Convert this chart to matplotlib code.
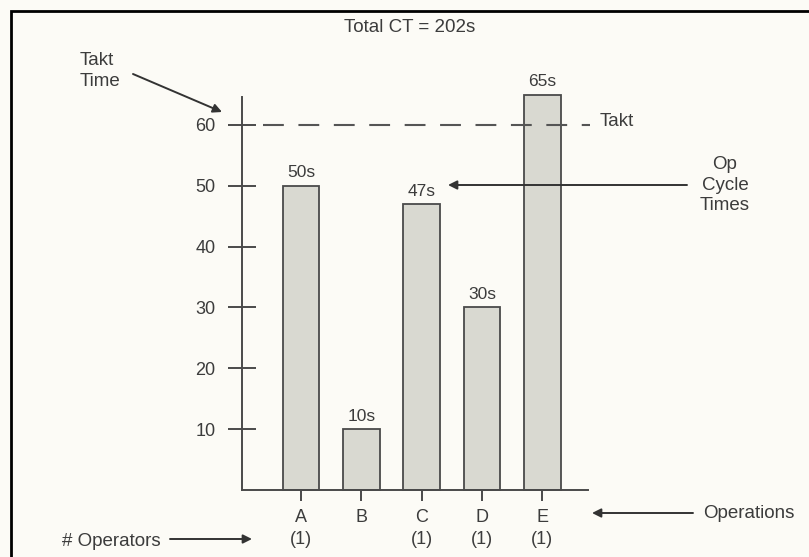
import matplotlib.pyplot as plt
import matplotlib.transforms as mtransforms
from matplotlib.patches import Rectangle

# -----------------------------
# Data
# -----------------------------
operations = ["A", "B", "C", "D", "E"]
cycle_times = [50, 10, 47, 30, 65]
operators = ["(1)", "", "(1)", "(1)", "(1)"]
takt_time = 60
y_ticks = [10, 20, 30, 40, 50, 60]
total_ct = sum(cycle_times)  # 202s

plt.rcParams['font.family'] = ['Liberation Sans Narrow', 'Liberation Sans', 'DejaVu Sans']

W, H = 809, 557
BG = "#fcfbf6"
INK = "#3c3c3c"
LINE = "#4a4a4a"

fig = plt.figure(figsize=(W / 100, H / 100), dpi=100, facecolor=BG)


def fx(px):
    return px / W


def fy(py):
    return 1 - py / H


# outer frame (only top and left edges fall inside the picture)
fig.add_artist(Rectangle((fx(11), -0.1), 1.2, fy(11) + 0.1, transform=fig.transFigure,
                         fill=False, edgecolor="black", linewidth=2.0))

# axes box: y-axis at x=242px, x-axis at y=490px
ax = fig.add_axes([fx(242), fy(490), fx(588) - fx(242), fy(97) - fy(490)])
ax.set_facecolor("none")

x = list(range(len(operations)))
ax.bar(x, cycle_times, width=0.61, color="#d9d9d1", edgecolor=LINE,
       linewidth=1.3, zorder=2, clip_on=False)

for xi, v in zip(x, cycle_times):
    ax.text(xi, v + 0.9, f"{v}s", ha="center", va="bottom", fontsize=12.5, color=INK)

# takt line
ax.plot([-0.63, 4.79], [takt_time, takt_time], color="#555555", linewidth=1.5,
        linestyle=(0, (10, 7)), zorder=3, clip_on=False)

ax.set_xlim(-0.98, 4.76)
ax.set_ylim(0, 64.6)
for s in ["top", "right"]:
    ax.spines[s].set_visible(False)
for s in ["left", "bottom"]:
    ax.spines[s].set_color(LINE)
    ax.spines[s].set_linewidth(1.4)

ax.set_yticks(y_ticks)
ax.set_yticklabels([str(t) for t in y_ticks])
ax.set_xticks(x)
ax.set_xticklabels(operations)
ax.tick_params(axis="y", direction="inout", length=20, width=1.4, color=LINE,
               labelsize=13, labelcolor=INK, pad=9)
ax.tick_params(axis="x", direction="inout", length=16, width=1.4, color=LINE,
               labelsize=13, labelcolor=INK, pad=6)

# operator counts under the letters
blend = mtransforms.blended_transform_factory(ax.transData, fig.transFigure)
for xi, op in zip(x, operators):
    ax.text(xi, fy(540), op, transform=blend, ha="center", va="center",
            fontsize=13, color=INK)

# texts
fig.text(fx(410), fy(28), f"Total CT = {total_ct}s", ha="center", va="center",
         fontsize=13.5, color=INK)
fig.text(fx(80), fy(71), "Takt\nTime", ha="left", va="center", fontsize=13.5,
         color=INK, linespacing=1.25)
fig.text(fx(600), fy(122), "Takt", ha="left", va="center", fontsize=13.5, color=INK)
fig.text(fx(725), fy(185), "Op\nCycle\nTimes", ha="center", va="center", fontsize=13.5,
         color=INK, linespacing=1.3)
fig.text(fx(703), fy(513), "Operations", ha="left", va="center", fontsize=13.5, color=INK)
fig.text(fx(62), fy(542), "# Operators", ha="left", va="center", fontsize=13.5, color=INK)

arrow = dict(arrowstyle="-|>", color="#333333", linewidth=1.4, mutation_scale=13,
             shrinkA=0, shrinkB=0)
arrows = [((222, 112), (133, 74)),
          ((448, 185), (687, 185)),
          ((592, 513), (693, 513)),
          ((252, 539), (170, 539))]
for tip, tail in arrows:
    ax.annotate("", xy=(fx(tip[0]), fy(tip[1])), xytext=(fx(tail[0]), fy(tail[1])),
                xycoords="figure fraction", textcoords="figure fraction",
                arrowprops=arrow)

fig.savefig("out.png", dpi=100, facecolor=BG)
